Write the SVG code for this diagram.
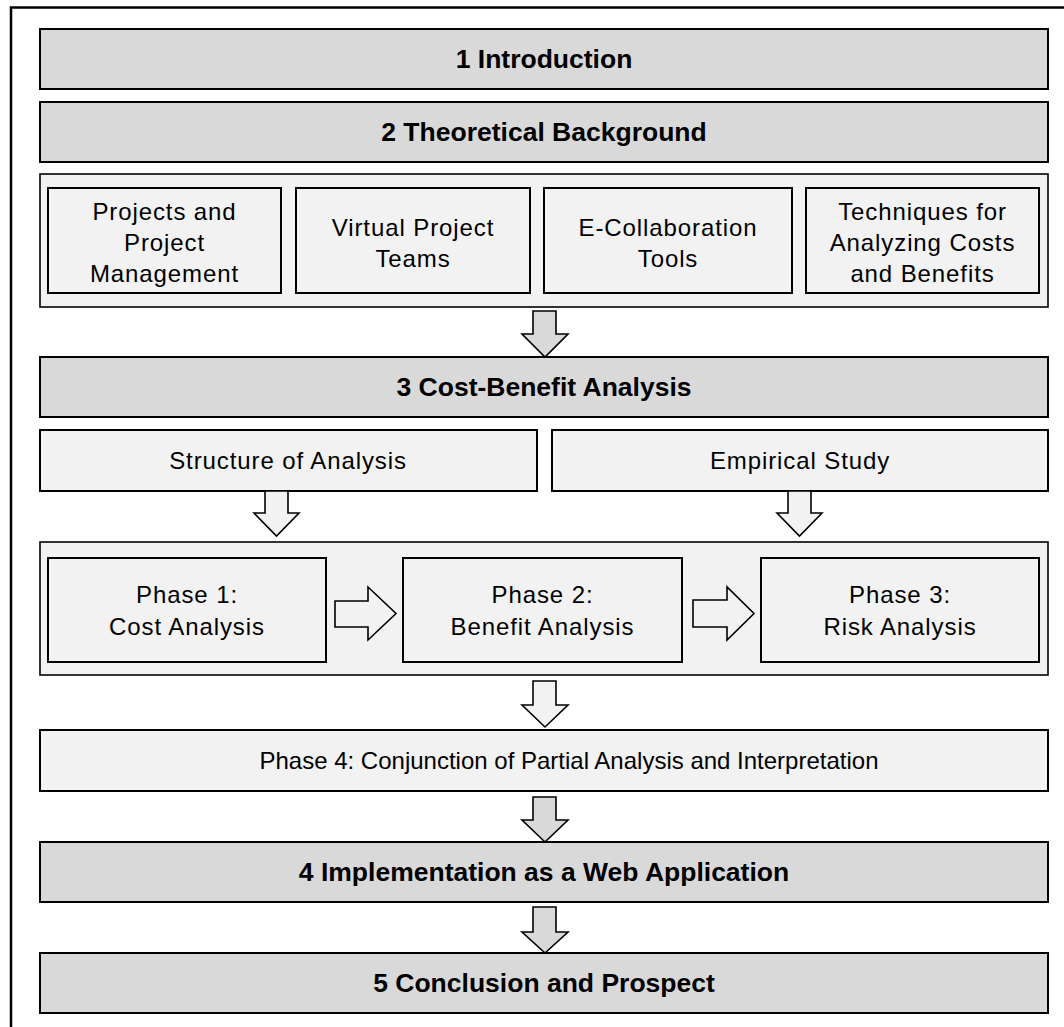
<svg xmlns="http://www.w3.org/2000/svg" width="1064" height="1027" viewBox="0 0 1064 1027">
<style>
.dark{fill:#d9d9d9;stroke:#000;stroke-width:2}
.light{fill:#f2f2f2;stroke:#000;stroke-width:2}
.lightthin{fill:#f2f2f2;stroke:#000;stroke-width:1.6}
.h{font-family:"Liberation Sans",Arial,sans-serif;font-weight:bold;font-size:26.5px;fill:#000;text-anchor:middle}
.t{font-family:"Liberation Sans",Arial,sans-serif;font-size:24px;fill:#000;text-anchor:middle;letter-spacing:0.9px}
.t0{font-family:"Liberation Sans",Arial,sans-serif;font-size:24px;fill:#000;text-anchor:middle}
.ad{fill:#d9d9d9;stroke:#000;stroke-width:1.6;stroke-linejoin:miter}
.al{fill:#f2f2f2;stroke:#000;stroke-width:1.6;stroke-linejoin:miter}
</style>
<rect width="1064" height="1027" fill="#fff"/>
<path d="M11,1027 V7.5 H1064" fill="none" stroke="#000" stroke-width="2.5"/>

<g id="n1"><rect class="dark" x="40" y="29" width="1008" height="60"/><text class="h" x="544" y="68">1 Introduction</text></g>
<g id="n2"><rect class="dark" x="40" y="102" width="1008" height="60"/><text class="h" x="544" y="141">2 Theoretical Background</text></g>

<g id="n2group"><rect class="lightthin" x="40" y="174" width="1008" height="133"/></g>
<g id="n2a"><rect class="light" x="48" y="188" width="233" height="105"/><text class="t" x="164.5" y="220">Projects and</text><text class="t" x="164.5" y="251">Project</text><text class="t" x="164.5" y="282">Management</text></g>
<g id="n2b"><rect class="light" x="296" y="188" width="234" height="105"/><text class="t" x="413" y="236">Virtual Project</text><text class="t" x="413" y="267">Teams</text></g>
<g id="n2c"><rect class="light" x="544" y="188" width="248" height="105"/><text class="t" x="668" y="236">E-Collaboration</text><text class="t" x="668" y="267">Tools</text></g>
<g id="n2d"><rect class="light" x="806" y="188" width="233" height="105"/><text class="t" x="922.5" y="220">Techniques for</text><text class="t" x="922.5" y="251">Analyzing Costs</text><text class="t" x="922.5" y="282">and Benefits</text></g>

<g id="n3"><rect class="dark" x="40" y="357" width="1008" height="60"/><text class="h" x="544" y="396">3 Cost-Benefit Analysis</text></g>
<g id="n3a"><rect class="light" x="40" y="430" width="497" height="61"/><text class="t" x="288" y="469">Structure of Analysis</text></g>
<g id="n3b"><rect class="light" x="552" y="430" width="496" height="61"/><text class="t" x="800" y="469">Empirical Study</text></g>

<g id="phases"><rect class="lightthin" x="40" y="542" width="1008" height="133"/></g>
<g id="p1"><rect class="light" x="48" y="558" width="278" height="104"/><text class="t" x="187" y="603">Phase 1:</text><text class="t" x="187" y="635">Cost Analysis</text></g>
<g id="p2"><rect class="light" x="403" y="558" width="279" height="104"/><text class="t" x="542.5" y="603">Phase 2:</text><text class="t" x="542.5" y="635">Benefit Analysis</text></g>
<g id="p3"><rect class="light" x="761" y="558" width="278" height="104"/><text class="t" x="900" y="603">Phase 3:</text><text class="t" x="900" y="635">Risk Analysis</text></g>

<g id="p4"><rect class="light" x="40" y="730" width="1008" height="61"/><text class="t0" x="569" y="769">Phase 4: Conjunction of Partial Analysis and Interpretation</text></g>
<g id="n4"><rect class="dark" x="40" y="842" width="1008" height="60"/><text class="h" x="544" y="881">4 Implementation as a Web Application</text></g>
<g id="n5"><rect class="dark" x="40" y="953" width="1008" height="60"/><text class="h" x="544" y="992">5 Conclusion and Prospect</text></g>

<g id="connectors">
<path class="ad" d="M533,311 H556 V334 H568 L545,357 L522,334 H533 Z"/>
<path class="al" d="M265,491 H288 V513 H299 L276.5,536 L254,513 H265 Z"/>
<path class="al" d="M788,491 H811 V513 H822 L799.5,536 L777,513 H788 Z"/>
<path class="al" d="M335,601 H368 V587 L396,613.5 L368,640 V627 H335 Z"/>
<path class="al" d="M693,600 H727 V587 L754,613.5 L727,640 V627 H693 Z"/>
<path class="al" d="M533,681 H556 V705 H568 L545,727 L522,705 H533 Z"/>
<path class="ad" d="M533,797 H556 V820 H568 L545,842 L522,820 H533 Z"/>
<path class="ad" d="M533,907 H556 V932 H568 L545,953 L522,932 H533 Z"/>
</g>
</svg>
